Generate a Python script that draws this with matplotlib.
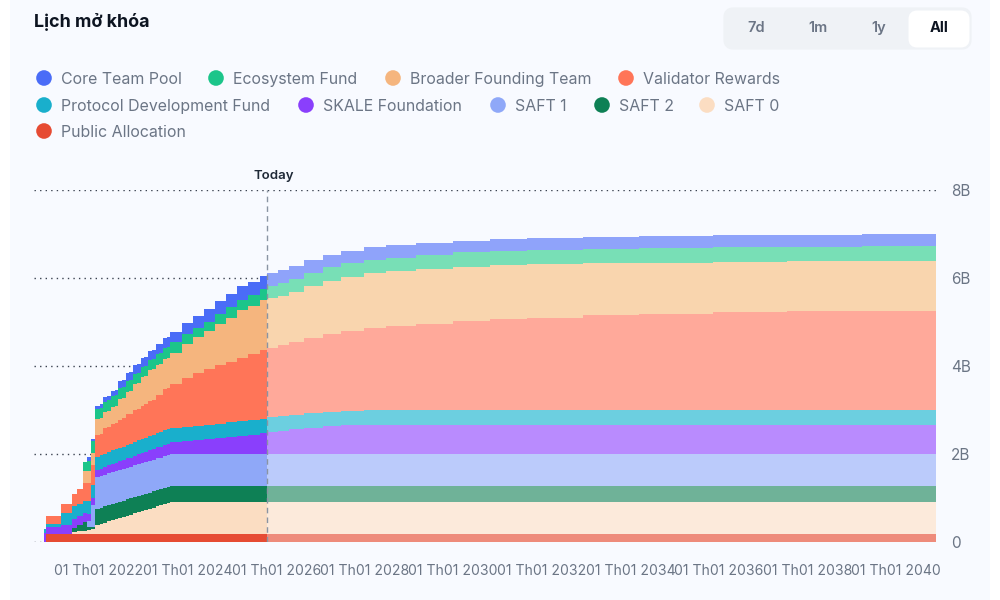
import matplotlib
matplotlib.use("Agg")
import matplotlib.pyplot as plt
from matplotlib.patches import Rectangle, FancyBboxPatch, Circle
import numpy as np

plt.rcParams['font.family'] = ['Inter', 'DejaVu Sans']

# months since token launch (x axis)
months = [0, 0.6, 4.6, 7.4, 9, 10.6, 11.5, 12.6,
          13.6, 15, 16, 17, 18, 19, 20, 21, 22, 23, 24, 25, 26, 27, 28, 29, 30, 31, 32, 33, 34,
          37, 40, 43, 46, 49, 52, 55, 58,
          60,
          63, 66, 70, 75, 80, 86, 92, 100, 110, 120, 130, 145, 160, 180, 200, 220, 240]
today_month = 60

# unlocked amount per period, in billions, bottom to top
public_allocation = [0] + [0.19] * 54
saft_0 = [0, 0, 0, .03, .05, .07, .08, .10,
          .19, .22, .25, .28, .30, .33, .35, .38, .41, .43, .46, .49, .51, .54, .56, .59, .62, .64, .67, .69, .72] + [.72] * 26
saft_2 = [0, 0, 0, .10, .14, .19, .08, .06] + [.37] * 47
saft_1 = [0, 0, 0, 0, 0, 0, .13, .50] + [.72] * 47
skale_foundation = [.20, .15, .19, .20, .20, .20, .15, .15,
                    .17, .17, .18, .18, .19, .19, .20, .20, .21, .21, .22, .22, .23, .23, .24, .24, .25, .25, .26, .26, .27,
                    .29, .31, .34, .36, .39, .41, .44, .47,
                    .50,
                    .53, .56, .60, .63, .65] + [.66] * 12
protocol_dev = [.10, .08, .29, .29, .29, .29, .30, .30,
                .30, .30, .30, .30, .31, .31, .31, .31, .31, .31, .32, .32, .32, .32, .32, .32, .33, .33, .33, .33, .33] + [.33] * 26
validator_rewards = [0, .17, .19, .27, .33, .39, .42, .45,
                     .49, .49, .57, .57, .60, .60, .64, .64, .69, .69, .72, .72, .76, .76, .80, .80, .85, .85, .93, .93, .98,
                     1.10, 1.19, 1.26, 1.33, 1.38, 1.45, 1.50, 1.56,
                     1.58,
                     1.62, 1.66, 1.71, 1.77, 1.82, 1.87, 1.91, 1.97, 2.03, 2.08, 2.11, 2.16, 2.20, 2.23, 2.26, 2.27, 2.28]
broader_founding = [0, 0, 0, 0, 0, .29, .27, .27,
                    .36, .36, .37, .37, .39, .39, .47, .47, .52, .52, .58, .58, .64, .64, .70, .70, .70, .70, .70, .70, .72,
                    .78, .82, .86, .94, 1.00, 1.08, 1.09, 1.13,
                    1.13,
                    1.12, 1.14, 1.17, 1.20, 1.22, 1.25, 1.25, 1.24, 1.23, 1.22, 1.21, 1.18, 1.16, 1.15, 1.13, 1.13, 1.12]
ecosystem_fund = [0, 0, 0, 0, 0, .19, .23, .27,
                  .23, .23, .24, .24, .24, .24, .25, .25, .25, .25, .24, .24, .24, .24, .24, .24, .24, .24, .24, .24, .24,
                  .23, .22, .22, .23, .24, .24, .25, .26,
                  .27,
                  .28, .29, .31, .31, .31, .31, .31, .32] + [.33] * 9
core_team = [0, 0, 0, 0, 0, 0, .08, .04,
             .08, .08, .10, .10, .12, .12, .16, .16, .18, .18, .20, .20, .20, .20, .20, .20, .22, .22, .23, .23, .24,
             .25, .26, .28, .29, .30, .31, .31, .30,
             .30,
             .30, .30, .30, .29, .28, .28, .28, .28] + [.27] * 9

stack_series = [public_allocation, saft_0, saft_2, saft_1, skale_foundation,
                protocol_dev, validator_rewards, broader_founding, ecosystem_fund, core_team]
past_colors = ['#E64B33', '#FBDDC2', '#0E8055', '#8FA8F8', '#8A3FFC',
               '#19AFCC', '#FF7558', '#F5B57E', '#1CC58A', '#4A6CF7']
future_colors = ['#EE8B7B', '#FCEADB', '#6FB298', '#BBCBFB', '#B98BFE',
                 '#6CCFE0', '#FFA99A', '#F9D5AE', '#78DFB6', '#8FA3FA']

legend_labels = ['Core Team Pool', 'Ecosystem Fund', 'Broader Founding Team', 'Validator Rewards',
                 'Protocol Development Fund', 'SKALE Foundation', 'SAFT 1', 'SAFT 2', 'SAFT 0',
                 'Public Allocation']
legend_colors = ['#4A6CF7', '#1CC58A', '#F5B57E', '#FF7558', '#19AFCC',
                 '#8A3FFC', '#8FA8F8', '#0E8055', '#FBDDC2', '#E64B33']

y_ticks = [0, 2, 4, 6, 8]
y_tick_labels = ['0', '2B', '4B', '6B', '8B']
x_tick_months = [14.8, 38.6, 62.5, 86.3, 110.1, 134, 157.8, 181.6, 205.5, 229.3]
x_tick_labels = ['01 Th01 2022', '01 Th01 2024', '01 Th01 2026', '01 Th01 2028', '01 Th01 2030',
                 '01 Th01 2032', '01 Th01 2034', '01 Th01 2036', '01 Th01 2038', '01 Th01 2040']

fig = plt.figure(figsize=(10, 6), dpi=100, facecolor='white')
W, H = 1000, 600

# page chrome, in pixel coordinates
bg = fig.add_axes([0, 0, 1, 1])
bg.set_xlim(0, W); bg.set_ylim(H, 0); bg.axis('off')
CARD = '#F8FAFF'
bg.add_patch(Rectangle((10, 0), 980, 600, fc=CARD, ec='none'))
bg.text(34, 22, 'Lịch mở khóa', fontsize=12.9, fontweight='bold', color='#0D1421', va='center')
bg.add_patch(FancyBboxPatch((729, 13), 237, 31, boxstyle='round,pad=0,rounding_size=4',
                            fc='#EFF2F6', ec='#EFF2F6', lw=8))
bg.add_patch(FancyBboxPatch((912, 14), 54, 30, boxstyle='round,pad=0,rounding_size=5',
                            fc='white', ec='white', lw=5))
for lab, x in zip(['7d', '1m', '1y'], [756, 818, 879]):
    bg.text(x, 28, lab, fontsize=10.5, fontweight='semibold', color='#6B7585', ha='center', va='center')
bg.text(939, 28, 'All', fontsize=10.5, fontweight='bold', color='#0D1421', ha='center', va='center')

dot_x = [44, 216, 393, 626, 44, 306, 498, 602, 707, 44]
dot_y = [78, 78, 78, 78, 105, 105, 105, 105, 105, 131]
for lab, col, x, y in zip(legend_labels, legend_colors, dot_x, dot_y):
    bg.add_patch(Circle((x, y), 7.8, fc=col, ec='none'))
    bg.text(x + 17, y + 1.8, lab, fontsize=11.45, color='#6B7585', va='center')

# chart
px_left, px_right, px_top, px_bottom = 34, 936, 190, 542
ax = fig.add_axes([px_left / W, 1 - px_bottom / H, (px_right - px_left) / W, (px_bottom - px_top) / H])
ax.set_facecolor('none')
px_per_month = (936 - 44) / 240
ax.set_xlim(-(44 - px_left) / px_per_month, 240)
ax.set_ylim(0, 8)
for s in ax.spines.values():
    s.set_visible(False)

x = np.array(months, dtype=float)
tops = np.cumsum(np.array(stack_series, dtype=float), axis=0)
past = x <= today_month
future = x >= today_month
for i in range(len(stack_series) - 1, -1, -1):
    ax.fill_between(x[past], 0, tops[i][past], step='post', color=past_colors[i], lw=0, zorder=2)
    ax.fill_between(x[future], 0, tops[i][future], step='post', color=future_colors[i], lw=0, zorder=2)

ax.set_yticks(y_ticks)
ax.set_yticklabels(y_tick_labels)
ax.yaxis.tick_right()
ax.tick_params(axis='y', length=0, pad=10.8, labelsize=11, labelcolor='#6B7585')
ax.set_xticks(x_tick_months)
ax.set_xticklabels(x_tick_labels)
ax.tick_params(axis='x', length=0, pad=15.5, labelsize=10.1, labelcolor='#6B7585')
ax.grid(axis='y', linestyle=(0, (1, 3)), color='#3A4250', lw=1.0, zorder=1)
ax.axvline(today_month, color='#8A94A3', lw=1, linestyle=(0, (4, 3)), zorder=3)
ax.text(today_month + 1.8, 8.18, 'Today', fontsize=9.5, fontweight='semibold', color='#1F2937',
        ha='center', va='bottom')

fig.savefig('out.png', dpi=100)
